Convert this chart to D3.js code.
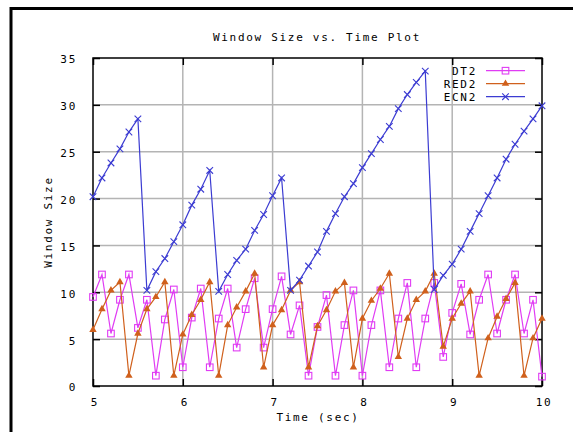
<!DOCTYPE html>
<html>
<head>
<meta charset="utf-8">
<script src="https://cdn.jsdelivr.net/npm/d3@7"></script>
<style>
  body { margin: 0; background: #fff; }
  svg text { font-family: "DejaVu Sans Mono", monospace; font-size: 11px; letter-spacing: 1.7px; fill: #000; }
</style>
</head>
<body>
<div id="chart"></div>
<script>
var times = [5.0, 5.1, 5.2, 5.3, 5.4, 5.5, 5.6, 5.7, 5.8, 5.9,
             6.0, 6.1, 6.2, 6.3, 6.4, 6.5, 6.6, 6.7, 6.8, 6.9,
             7.0, 7.1, 7.2, 7.3, 7.4, 7.5, 7.6, 7.7, 7.8, 7.9,
             8.0, 8.1, 8.2, 8.3, 8.4, 8.5, 8.6, 8.7, 8.8, 8.9,
             9.0, 9.1, 9.2, 9.3, 9.4, 9.5, 9.6, 9.7, 9.8, 9.9, 10.0];

var dt2 = [9.5, 11.9, 5.6, 9.2, 11.9, 6.2, 9.2, 1.1, 7.1, 10.3,
           2.0, 7.3, 10.4, 2.0, 7.2, 10.4, 4.1, 8.2, 11.5, 4.1,
           8.2, 11.7, 5.5, 8.6, 1.1, 6.3, 9.7, 1.1, 6.5, 10.2,
           1.1, 6.5, 10.2, 2.0, 7.2, 11.0, 2.0, 7.2, 11.0, 3.1,
           7.8, 10.9, 5.5, 9.2, 11.9, 5.6, 9.2, 11.9, 5.6, 9.2, 1.0];

var red2 = [6.0, 8.2, 10.2, 11.1, 1.1, 5.6, 8.2, 9.5, 11.1, 1.1,
            5.5, 7.6, 9.2, 11.1, 1.1, 6.5, 8.4, 10.1, 12.0, 2.0,
            6.5, 8.1, 10.2, 11.1, 2.0, 6.4, 8.1, 10.1, 11.0, 2.0,
            7.2, 9.1, 10.4, 12.0, 3.1, 7.2, 9.2, 10.1, 12.0, 4.2,
            7.2, 8.8, 10.1, 1.1, 5.1, 7.4, 9.3, 11.0, 1.1, 5.1, 7.2];

var ecn2 = [20.2, 22.2, 23.8, 25.3, 27.1, 28.5, 10.2, 12.2, 13.6, 15.4,
            17.2, 19.3, 21.0, 23.0, 10.1, 11.9, 13.4, 14.6, 16.6, 18.3,
            20.3, 22.2, 10.2, 11.3, 12.8, 14.3, 16.5, 18.4, 20.2, 21.6,
            23.3, 24.8, 26.3, 27.7, 29.6, 31.1, 32.4, 33.6, 10.3, 11.8,
            13.0, 14.6, 16.5, 18.4, 20.3, 22.2, 24.2, 25.8, 27.2, 28.5, 29.9];

var seriesNames = ['DT2', 'RED2', 'ECN2'];
var seriesColors = ['#e03cf4', '#d0601c', '#3c3cd2'];
var xTicks = [5, 6, 7, 8, 9, 10];
var yTicks = [0, 5, 10, 15, 20, 25, 30, 35];

var W = 573, H = 432;
var margin = {top: 58, right: 31, bottom: 46, left: 93};
var width = W - margin.left - margin.right,
    height = H - margin.top - margin.bottom;

var svg = d3.select('#chart').append('svg')
    .attr('width', W).attr('height', H);

// outer page border
svg.append('rect')
    .attr('x', 11).attr('y', 8.5)
    .attr('width', W + 20).attr('height', H + 20)
    .attr('fill', 'none').attr('stroke', '#000').attr('stroke-width', 3);

var g = svg.append('g')
    .attr('transform', 'translate(' + margin.left + ',' + margin.top + ')');

var x = d3.scaleLinear().domain([5, 10]).range([0, width]);
var y = d3.scaleLinear().domain([0, 35]).range([height, 0]);

// grid
g.append('g').selectAll('line').data(xTicks.slice(1, -1)).enter().append('line')
    .attr('x1', d => x(d)).attr('x2', d => x(d))
    .attr('y1', 0).attr('y2', height)
    .attr('stroke', '#b4b4b4').attr('stroke-width', 1.5);
g.append('g').selectAll('line').data(yTicks.slice(1, -1)).enter().append('line')
    .attr('x1', 0).attr('x2', width)
    .attr('y1', d => y(d)).attr('y2', d => y(d))
    .attr('stroke', '#b4b4b4').attr('stroke-width', 1.5);

// axes with inward ticks on all four sides
var tickLen = 7;
var xAxis = g.append('g').attr('transform', 'translate(0,' + height + ')')
    .call(d3.axisBottom(x).tickValues(xTicks).tickSize(-tickLen).tickPadding(tickLen + 5).tickFormat(d3.format('d')));
var xTop = g.append('g')
    .call(d3.axisTop(x).tickValues(xTicks).tickSize(-tickLen).tickFormat(''));
var yAxis = g.append('g')
    .call(d3.axisLeft(y).tickValues(yTicks).tickSize(-tickLen).tickPadding(tickLen + 9));
var yRight = g.append('g').attr('transform', 'translate(' + width + ',0)')
    .call(d3.axisRight(y).tickValues(yTicks).tickSize(-tickLen).tickFormat(''));

[xAxis, xTop, yAxis, yRight].forEach(a => {
    a.select('.domain').remove();
    a.selectAll('.tick line').attr('stroke', '#000').attr('stroke-width', 1.5);
    a.selectAll('text').attr('font-size', null).attr('font-family', null).attr('fill', '#000');
});
xAxis.selectAll('text').attr('dy', '0.71em').attr('dx', '1.5px');
yAxis.selectAll('text').attr('dy', '0.45em');

// frame
g.append('rect')
    .attr('width', width).attr('height', height)
    .attr('fill', 'none').attr('stroke', '#000').attr('stroke-width', 1.5);

// series
var allSeries = [dt2, red2, ecn2];
var line = d3.line().x((d, i) => x(times[i])).y(d => y(d));

var tri = d3.symbol().type(d3.symbolTriangle).size(24);

function drawMarker(sel, k, color) {
    if (k === 0) {
        sel.append('rect').attr('x', -3.3).attr('y', -3.3).attr('width', 6.6).attr('height', 6.6)
            .attr('fill', 'none').attr('stroke', color).attr('stroke-width', 1.1);
    } else if (k === 1) {
        sel.append('path').attr('d', tri).attr('fill', color);
    } else {
        sel.append('path').attr('d', 'M-3.3,-3.3L3.3,3.3M-3.3,3.3L3.3,-3.3')
            .attr('stroke', color).attr('stroke-width', 1.1).attr('fill', 'none');
    }
}

allSeries.forEach((vals, k) => {
    var color = seriesColors[k];
    g.append('path').datum(vals)
        .attr('d', line)
        .attr('fill', 'none').attr('stroke', color).attr('stroke-width', 1.2);
    g.append('g').selectAll('g').data(vals).enter().append('g')
        .attr('transform', (d, i) => 'translate(' + x(times[i]) + ',' + y(d) + ')')
        .each(function () { drawMarker(d3.select(this), k, color); });
});

// legend
var legend = g.append('g');
seriesNames.forEach((name, k) => {
    var ly = 12.7 + k * 13;
    legend.append('text').attr('x', 384).attr('y', ly).attr('dy', '0.35em')
        .attr('text-anchor', 'end').text(name);
    legend.append('line').attr('x1', 393).attr('x2', 432).attr('y1', ly).attr('y2', ly)
        .attr('stroke', seriesColors[k]).attr('stroke-width', 1.2);
    var m = legend.append('g').attr('transform', 'translate(412.5,' + ly + ')');
    drawMarker(m, k, seriesColors[k]);
});

// titles
svg.append('text').attr('x', 317).attr('y', 41).attr('text-anchor', 'middle')
    .text('Window Size vs. Time Plot');
svg.append('text').attr('x', 318).attr('y', 421).attr('text-anchor', 'middle')
    .text('Time (sec)');
svg.append('text').attr('transform', 'translate(48,' + (margin.top + height / 2) + ') rotate(-90)')
    .attr('text-anchor', 'middle').attr('dy', '0.35em')
    .text('Window Size');
</script>
</body>
</html>
